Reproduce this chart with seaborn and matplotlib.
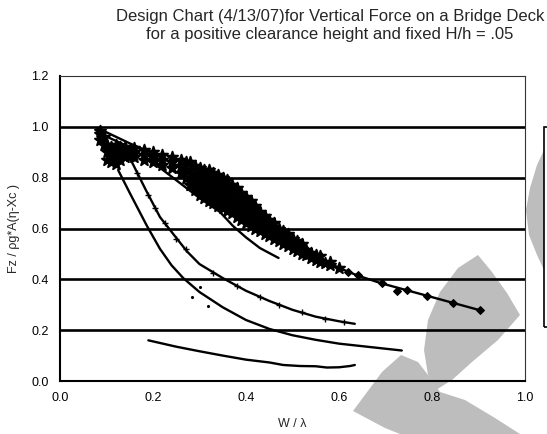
import numpy as np
import pandas as pd
import matplotlib
matplotlib.use("Agg")
import matplotlib.pyplot as plt
import seaborn as sns
from matplotlib.patches import Polygon, Rectangle

# ---------------- data ----------------
# fitted curve through the dense data cloud
curve_a_x = [0.08, 0.15, 0.20, 0.25, 0.30, 0.35, 0.40, 0.45, 0.50, 0.55, 0.60, 0.64, 0.69, 0.75, 0.80, 0.85, 0.90]
curve_a_y = [0.996, 0.935, 0.895, 0.85, 0.79, 0.735, 0.67, 0.61, 0.545, 0.49, 0.445, 0.415, 0.385, 0.355, 0.33, 0.305, 0.28]

curve_b_x = [0.09, 0.15, 0.20, 0.25, 0.30, 0.344, 0.372, 0.40, 0.43, 0.47]
curve_b_y = [0.97, 0.92, 0.86, 0.79, 0.72, 0.665, 0.61, 0.565, 0.523, 0.484]

curve_c_x = [0.14, 0.155, 0.185, 0.215, 0.245, 0.273, 0.30, 0.35, 0.40, 0.45, 0.50, 0.55, 0.60, 0.634]
curve_c_y = [0.90, 0.86, 0.75, 0.645, 0.575, 0.51, 0.46, 0.405, 0.355, 0.315, 0.28, 0.253, 0.235, 0.225]

curve_d_x = [0.125, 0.15, 0.187, 0.215, 0.24, 0.265, 0.30, 0.35, 0.40, 0.45, 0.50, 0.55, 0.60, 0.65, 0.70, 0.735]
curve_d_y = [0.83, 0.74, 0.61, 0.52, 0.455, 0.405, 0.35, 0.29, 0.24, 0.205, 0.18, 0.162, 0.147, 0.137, 0.127, 0.12]

curve_e_x = [0.19, 0.25, 0.30, 0.35, 0.40, 0.45, 0.48, 0.516, 0.55, 0.574, 0.60, 0.624, 0.634]
curve_e_y = [0.16, 0.135, 0.117, 0.10, 0.084, 0.073, 0.063, 0.059, 0.058, 0.053, 0.054, 0.059, 0.063]

# measured data cloud (columns of points)
cloud_cols_x = [0.085, 0.095, 0.10, 0.11, 0.12, 0.13, 0.14, 0.15, 0.16, 0.18, 0.20, 0.22, 0.24, 0.26, 0.27,
                0.28, 0.29, 0.30, 0.31, 0.32, 0.33, 0.34, 0.35, 0.36, 0.37, 0.38, 0.39, 0.40, 0.41, 0.42,
                0.43, 0.44, 0.45, 0.46, 0.47, 0.48, 0.49, 0.50, 0.51, 0.52, 0.53, 0.54, 0.55, 0.56, 0.57,
                0.58, 0.60]
cloud_cols_y = [
    [0.95, 0.97, 0.985], [0.93, 0.96], [0.87, 0.90, 0.93], [0.86, 0.89, 0.92], [0.855, 0.88, 0.91, 0.93],
    [0.87, 0.90, 0.92], [0.88, 0.905, 0.92], [0.885, 0.91], [0.88, 0.90, 0.915], [0.87, 0.89, 0.91],
    [0.86, 0.88, 0.90], [0.85, 0.87, 0.89], [0.84, 0.86, 0.88], [0.82, 0.845, 0.87], [0.80, 0.83, 0.86],
    [0.77, 0.80, 0.83, 0.86], [0.75, 0.78, 0.81, 0.845], [0.73, 0.76, 0.79, 0.82, 0.84],
    [0.72, 0.75, 0.78, 0.81, 0.83], [0.71, 0.74, 0.77, 0.80, 0.83], [0.70, 0.73, 0.76, 0.79, 0.82],
    [0.69, 0.72, 0.75, 0.78, 0.81], [0.68, 0.71, 0.74, 0.77, 0.80], [0.67, 0.70, 0.73, 0.76, 0.79],
    [0.66, 0.69, 0.72, 0.75, 0.77], [0.645, 0.675, 0.705, 0.735, 0.76], [0.635, 0.665, 0.695, 0.72, 0.74],
    [0.62, 0.65, 0.68, 0.705, 0.725], [0.61, 0.64, 0.665, 0.69, 0.71], [0.60, 0.625, 0.65, 0.675, 0.69],
    [0.59, 0.615, 0.64, 0.665], [0.58, 0.605, 0.63, 0.65], [0.57, 0.595, 0.615, 0.635],
    [0.56, 0.585, 0.605, 0.62], [0.55, 0.575, 0.60], [0.54, 0.565, 0.59], [0.53, 0.555, 0.58],
    [0.52, 0.54, 0.56], [0.51, 0.53, 0.55], [0.50, 0.52, 0.54], [0.495, 0.515], [0.485, 0.505],
    [0.475, 0.495], [0.47, 0.49], [0.465], [0.455, 0.47], [0.445]]

# sparse measured points on the tail of curve A
tail_x = [0.62, 0.64, 0.692, 0.725, 0.746, 0.79, 0.845, 0.903]
tail_y = [0.43, 0.417, 0.385, 0.355, 0.36, 0.335, 0.307, 0.28]

# data points along curve C and a few stray points
c_pts_x = [0.165, 0.19, 0.205, 0.225, 0.25, 0.27, 0.33, 0.38, 0.43, 0.47, 0.52, 0.57, 0.61]
c_pts_y = [0.82, 0.73, 0.68, 0.62, 0.56, 0.52, 0.425, 0.375, 0.33, 0.30, 0.27, 0.245, 0.232]
stray_x = [0.283, 0.30, 0.318]
stray_y = [0.33, 0.37, 0.295]

x_ticks = [0.0, 0.2, 0.4, 0.6, 0.8, 1.0]
y_ticks = [0.0, 0.2, 0.4, 0.6, 0.8, 1.0, 1.2]
title_lines = ["Design Chart (4/13/07)for Vertical Force on a Bridge Deck",
               "for a positive clearance height and fixed H/h = .05"]
x_label = "W / \u03bb"
y_label = "Fz / \u03c1g*A(\u03b7-Xc )"

# ---------------- plotting ----------------
sns.set_theme(style="white")
plt.rcParams['font.family'] = ['Liberation Sans', 'DejaVu Sans']

W, H = 547, 434
fig = plt.figure(figsize=(W / 100, H / 100), dpi=100)
fig.patch.set_facecolor('white')
ax = fig.add_axes([60 / W, 1 - 381 / H, 465 / W, 305 / H])
ax.set_facecolor('none')

cloud_x = [x for x, ys in zip(cloud_cols_x, cloud_cols_y) for _ in ys]
cloud_y = [y for ys in cloud_cols_y for y in ys]

for cx, cy in [(curve_a_x, curve_a_y), (curve_b_x, curve_b_y), (curve_c_x, curve_c_y),
               (curve_d_x, curve_d_y), (curve_e_x, curve_e_y)]:
    sns.lineplot(x=cx, y=cy, ax=ax, color='black', lw=1.7, sort=False, estimator=None)

sns.scatterplot(x=cloud_x, y=cloud_y, ax=ax, marker='*', s=70, color='black',
                edgecolor='black', linewidth=1.4, zorder=3)
sns.scatterplot(x=tail_x, y=tail_y, ax=ax, marker='D', s=16, color='black',
                edgecolor='black', linewidth=0.8, zorder=3)
sns.scatterplot(x=c_pts_x, y=c_pts_y, ax=ax, marker='+', s=18, color='black', linewidth=1.0, zorder=3)
sns.scatterplot(x=stray_x, y=stray_y, ax=ax, marker='o', s=5, color='black', linewidth=0, zorder=3)

ax.set_xlim(0, 1.0)
ax.set_ylim(0, 1.2)
ax.set_xticks(x_ticks)
ax.set_xticklabels([f"{v:.1f}" for v in x_ticks])
ax.set_yticks(y_ticks)
ax.set_yticklabels([f"{v:.1f}" for v in y_ticks])
ax.tick_params(direction='out', length=4, width=1, colors='black', labelsize=9, pad=4)

for v in y_ticks[1:-1]:
    ax.axhline(v, color='black', lw=1.9, zorder=1)
for side in ['left', 'bottom']:
    ax.spines[side].set_color('black')
    ax.spines[side].set_linewidth(1.5)
for side in ['top', 'right']:
    ax.spines[side].set_color('#333333')
    ax.spines[side].set_linewidth(0.8)

ax.set_xlabel(x_label, fontsize=9, labelpad=10)
ax.set_ylabel(y_label, fontsize=9, labelpad=8)

fig.text(330 / W, 1 - 17 / H, title_lines[0], ha='center', va='center', fontsize=12)
fig.text(330 / W, 1 - 34 / H, title_lines[1], ha='center', va='center', fontsize=12)

# cropped legend frame at the right edge
fig.add_artist(Rectangle((544 / W, 1 - 327 / H), 30 / W, 200 / H, transform=fig.transFigure,
                         fill=False, edgecolor='black', lw=1.2, clip_on=False))

# gray scan watermark shapes
def px(pts):
    return [(x / W, 1 - y / H) for x, y in pts]

shapes = [
    [(544, 150), (537, 165), (530, 188), (526, 210), (529, 235), (537, 255), (544, 270)],
    [(478, 255), (458, 268), (440, 292), (428, 320), (424, 350), (428, 375), (436, 390),
     (452, 380), (472, 362), (498, 340), (520, 315), (507, 293), (492, 272)],
    [(401, 355), (382, 372), (353, 411), (385, 428), (400, 434), (520, 434), (495, 418),
     (465, 400), (440, 392), (428, 375), (418, 362)],
]
for s in shapes:
    fig.add_artist(Polygon(px(s), closed=True, transform=fig.transFigure,
                           facecolor='#bdbdbd', edgecolor='none', zorder=-1))

fig.savefig("out.png", dpi=100)
